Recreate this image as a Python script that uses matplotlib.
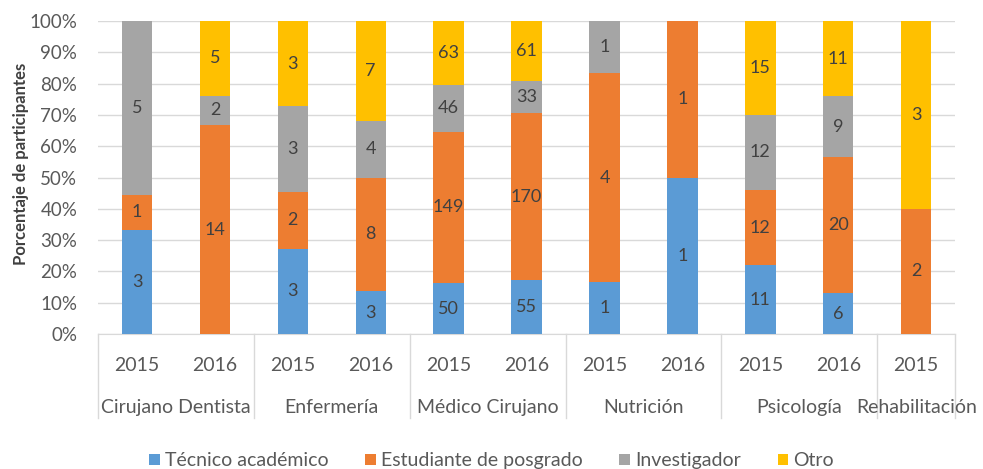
import matplotlib.pyplot as plt
import matplotlib.transforms as mtransforms
import numpy as np

plt.rcParams['font.family'] = ['Lato', 'DejaVu Sans']

carreras = ["Cirujano Dentista", "Enfermería", "Médico Cirujano",
            "Nutrición", "Psicología", "Rehabilitación"]
anios = [["2015", "2016"], ["2015", "2016"], ["2015", "2016"],
         ["2015", "2016"], ["2015", "2016"], ["2015"]]

series = ["Técnico académico", "Estudiante de posgrado", "Investigador", "Otro"]
tecnico = [3, 0, 3, 3, 50, 55, 1, 1, 11, 6, 0]
estudiante = [1, 14, 2, 8, 149, 170, 4, 1, 12, 20, 2]
investigador = [5, 2, 3, 4, 46, 33, 1, 0, 12, 9, 0]
otro = [0, 5, 3, 7, 63, 61, 0, 0, 15, 11, 3]
colores = ["#5B9BD5", "#ED7D31", "#A5A5A5", "#FFC000"]

conteos = np.array([tecnico, estudiante, investigador, otro], dtype=float)
totales = conteos.sum(axis=0)
pct = conteos / totales * 100
x = np.arange(conteos.shape[1])

fig = plt.figure(figsize=(9.83, 4.69), dpi=100)
ax = fig.add_axes([0.0997, 0.288, 0.872, 0.667])

base = np.zeros(len(x))
for i in range(4):
    ax.bar(x, pct[i], bottom=base, width=0.39, color=colores[i],
           label=series[i], zorder=3)
    for j in range(len(x)):
        if conteos[i, j] > 0:
            ax.text(x[j], base[j] + pct[i, j] / 2, str(int(conteos[i, j])),
                    ha="center", va="center", fontsize=13, color="#404040",
                    zorder=4)
    base += pct[i]

ax.set_xlim(-0.5, len(x) - 0.5)
ax.set_ylim(0, 100)
ax.set_yticks(np.arange(0, 101, 10))
ax.set_yticklabels([f"{v}%" for v in range(0, 101, 10)])
ax.tick_params(axis="y", length=0, labelsize=13.5, labelcolor="#595959", pad=15)
ax.set_xticks([])
ax.grid(axis="y", color="#D9D9D9", linewidth=1, zorder=0)
for s in ["top", "right", "left"]:
    ax.spines[s].set_visible(False)
ax.spines["bottom"].set_color("#D9D9D9")

ax.set_ylabel("Porcentaje de participantes", fontsize=12, fontweight="bold",
              color="#404040")
ax.yaxis.set_label_coords(-0.08, 0.545)

# etiquetas de categoría en dos niveles
trans = mtransforms.blended_transform_factory(ax.transData, ax.transAxes)
pos = 0
ax.plot([-0.5, -0.5], [0, -0.27], transform=trans, color="#D9D9D9",
        lw=1, clip_on=False)
for carrera, ys in zip(carreras, anios):
    for k, a in enumerate(ys):
        ax.text(pos + k, -0.10, a, transform=trans, ha="center", va="center",
                fontsize=14, color="#595959")
    centro = pos + (len(ys) - 1) / 2
    ax.text(centro, -0.235, carrera, transform=trans, ha="center",
            va="center", fontsize=14, color="#595959")
    pos += len(ys)
    ax.plot([pos - 0.5, pos - 0.5], [0, -0.27], transform=trans,
            color="#D9D9D9", lw=1, clip_on=False)

fig.legend(loc="lower center", bbox_to_anchor=(0.5, -0.038), ncol=4,
           frameon=False, fontsize=14, handlelength=0.55, handleheight=0.55,
           handletextpad=0.25, columnspacing=1.9, labelcolor="#595959")

fig.savefig("out.png", dpi=100)
